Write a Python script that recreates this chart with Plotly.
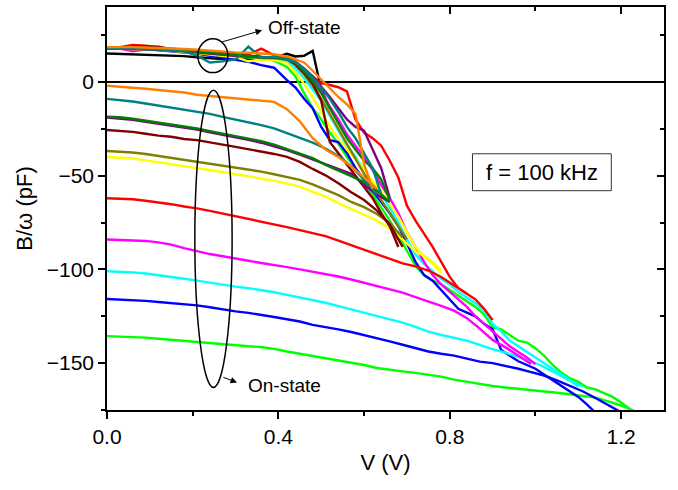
import plotly.graph_objects as go

# Voltage grid for the on-state sweeps (V)
V_ON = [0.00, 0.03, 0.06, 0.09, 0.12, 0.15, 0.18, 0.21, 0.24, 0.27,
        0.30, 0.33, 0.36, 0.39, 0.42, 0.45, 0.48, 0.51, 0.54, 0.57,
        0.60, 0.63, 0.66, 0.69, 0.72, 0.75, 0.78, 0.81, 0.84, 0.87,
        0.90, 0.93, 0.96, 0.99, 1.02, 1.05, 1.08, 1.11, 1.14, 1.17,
        1.20, 1.23]

# Voltage grid for the off-state sweeps (V)
V_OFF = [0.00, 0.03, 0.06, 0.09, 0.12, 0.15, 0.18, 0.21, 0.24, 0.27,
         0.30, 0.33, 0.36, 0.39, 0.42, 0.44, 0.46, 0.48, 0.50, 0.52,
         0.54, 0.56, 0.58, 0.60, 0.62, 0.64, 0.66, 0.68, 0.70, 0.72,
         0.74, 0.76, 0.78, 0.80, 0.82, 0.84, 0.86, 0.88, 0.90, 0.92,
         0.94, 0.96, 0.98, 1.00, 1.02, 1.04, 1.06, 1.08, 1.10, 1.12,
         1.14, 1.16, 1.18, 1.20, 1.22]

# B/omega (pF), on-state sweeps
ON_ORANGE = [-2.0, -2.4, -3.0, -3.6, -4.3, -5.0, -5.6, -6.8, -7.4, -8.2,
             -8.8, -9.5, -10.2, -10.6, -14.5, -21.0, -30.0, -36.0, -40.0, -45.0,
             -51.0, -57.0]
ON_TEAL = [-9.0, -9.6, -10.4, -11.5, -12.6, -13.4, -14.8, -15.8, -17.0, -18.6,
           -20.0, -21.6, -23.0, -24.8, -27.2, -30.0, -32.4, -35.5, -39.5, -45.0,
           -52.0, -60.0]
ON_PURPLE = [-19.0, -19.4, -20.2, -21.2, -22.2, -23.2, -24.4, -25.4, -26.8, -28.0,
             -29.4, -30.8, -32.4, -34.2, -36.4, -38.8, -41.4, -44.0, -46.4, -49.0,
             -55.0, -60.0, -64.0]
ON_GREEN = [-18.5, -18.8, -19.6, -20.6, -21.8, -22.6, -23.9, -24.8, -26.2, -27.4,
            -28.6, -30.2, -31.6, -33.4, -35.8, -38.0, -40.6, -44.2, -47.0, -50.2,
            -53.5, -58.0, -64.0]
ON_DARKRED = [-25.6, -26.0, -26.6, -27.6, -28.6, -29.2, -30.4, -31.0, -32.4, -33.4,
              -34.6, -35.8, -36.8, -38.4, -40.0, -42.6, -46.4, -49.8, -54.0, -58.8,
              -63.0, -68.6, -76.0, -88.0]
ON_OLIVE = [-36.8, -37.0, -37.6, -38.4, -39.4, -40.4, -41.4, -42.4, -43.4, -44.8,
            -45.6, -46.8, -47.8, -49.2, -50.6, -52.2, -54.6, -57.6, -60.4, -64.0,
            -66.8, -70.4, -75.2, -83.0]
ON_YELLOW = [-40.0, -40.2, -40.8, -41.8, -42.8, -43.8, -44.8, -45.8, -47.0, -48.0,
             -49.2, -50.2, -51.6, -52.6, -54.2, -55.8, -58.6, -61.2, -64.6, -67.8,
             -70.6, -74.0, -78.2, -84.0, -90.4, -94.2, -100.5]
ON_RED = [-62.0, -62.2, -62.6, -63.4, -64.2, -65.2, -66.4, -67.4, -68.8, -70.2,
          -71.6, -73.0, -74.4, -75.6, -77.4, -79.0, -80.8, -82.2, -84.6, -87.0,
          -89.8, -92.2, -94.6, -96.8, -98.4, -100.6, -104.0, -108.6, -113.0]
ON_MAGENTA = [-84.0, -84.2, -84.4, -84.8, -85.6, -86.8, -88.6, -90.4, -91.8, -93.0,
              -94.4, -95.4, -96.6, -97.6, -98.8, -100.0, -101.2, -102.4, -103.8, -105.4,
              -107.2, -108.6, -110.6, -112.4, -114.8, -117.0, -119.4, -122.0, -126.0, -131.6,
              -137.6, -141.6, -145.8, -150.4]
ON_CYAN = [-101.0, -101.2, -101.6, -102.2, -103.0, -104.0, -105.0, -106.0, -107.2, -108.2,
           -109.2, -110.0, -111.0, -112.2, -113.6, -115.0, -116.4, -117.8, -119.6, -121.4,
           -123.0, -124.6, -126.4, -128.4, -130.6, -133.2, -135.0, -136.4, -138.0, -140.2,
           -142.6, -144.4, -146.6, -149.0, -152.0, -155.6, -159.4, -162.5]
ON_BLUE = [-115.8, -116.0, -116.2, -116.8, -117.4, -118.0, -118.4, -119.2, -120.2, -121.4,
           -122.4, -123.2, -124.2, -125.4, -126.6, -127.8, -129.6, -130.6, -132.0, -133.4,
           -135.0, -136.4, -138.4, -140.2, -142.0, -143.8, -145.0, -146.0, -147.6, -149.2,
           -150.0, -151.4, -153.0, -154.8, -156.6, -159.2, -162.0, -165.0, -168.6, -172.4,
           -176.2]
ON_LIME = [-135.6, -135.8, -136.0, -136.4, -137.0, -137.6, -138.2, -138.6, -139.4, -140.0,
           -140.6, -141.0, -141.4, -142.4, -143.8, -145.0, -146.2, -147.2, -148.4, -149.6,
           -151.0, -152.6, -153.6, -154.4, -155.2, -156.0, -157.2, -158.8, -160.0, -161.0,
           -162.2, -163.0, -163.8, -164.4, -165.0, -165.8, -166.6, -167.4, -168.4, -170.4,
           -172.6, -175.4]

# B/omega (pF), off-state sweeps
OFF_BLACK = [15.2, 15.0, 14.8, 14.6, 14.4, 14.0, 13.8, 13.2, 12.6, 12.2,
             12.0, 12.4, 12.6, 13.0, 15.0, 13.6, 14.0, 16.6, -4.0, -14.0]
OFF_LIME = [17.6, 17.8, 17.6, 17.4, 17.2, 16.8, 16.4, 15.8, 15.0, 14.2,
            13.6, 13.0, 12.6, 11.4,
            8.0, 3.0, -6.0, -14.0, -20.0, -27.0, -33.0, -40.0, -46.0, -53.0,
            -60.0, -67.0, -74.0, -82.0, -90.0, -98.0, -103.0, -106.0, -108.0, -111.0,
            -114.0, -117.0, -120.0, -124.0, -131.0, -132.0, -135.0, -138.0, -139.0, -142.0,
            -146.0, -151.0, -155.0, -158.0, -160.0, -163.0, -164.0, -166.0, -168.0, -171.0,
            -174.5]
OFF_BLUE = [17.8, 18.0, 17.8, 17.6, 17.0, 16.6, 16.0, 15.2, 14.0, 13.0,
            12.0, 10.8, 9.0, 7.6,
            1.0, -3.0, -9.0, -14.0, -24.0, -31.0, -32.0, -38.0, -46.0, -52.0,
            -58.0, -64.0, -70.0, -77.0, -86.0, -96.0, -103.0, -106.0, -111.0, -116.0,
            -121.0, -123.0, -125.0, -129.0, -132.0, -143.0, -146.0, -149.0, -151.0, -153.0,
            -156.0, -159.0, -162.0, -165.0, -168.0, -172.0, -176.5]
OFF_CYAN = [18.2, 18.0, 17.8, 17.8, 17.4, 17.0, 16.6, 15.8, 15.2, 14.4,
            14.0, 13.4, 13.0, 12.4,
            10.8, 7.2, 2.0, -4.0, -10.0, -18.0, -26.0, -34.0, -40.0, -47.0,
            -54.0, -60.0, -67.0, -75.0, -84.0, -92.0, -97.0, -101.0, -105.0, -108.0,
            -112.0, -115.0, -118.0, -122.0, -129.0, -133.0, -138.0, -141.0, -144.0, -147.0,
            -150.0, -153.0, -156.0, -159.0, -162.5]
OFF_MAGENTA = [18.0, 17.8, 16.4, 17.4, 17.6, 17.2, 16.8, 16.0, 15.4, 14.8,
               14.2, 13.8, 13.4, 13.0,
               12.0, 9.6, 6.0, 1.0, -5.0, -13.0, -20.0, -28.0, -34.0, -40.0,
               -47.0, -55.0, -62.0, -70.0, -80.0, -88.0, -96.0, -103.0, -108.0, -112.0,
               -116.0, -120.0, -125.0, -129.0, -133.0, -137.0, -141.0, -144.0, -147.0, -150.5]
OFF_RED = [18.4, 18.6, 19.8, 19.4, 18.4, 17.8, 17.2, 16.4, 15.8, 15.2,
           14.8, 14.6, 17.8, 14.2,
           13.2, 10.0, 6.4, 3.0, -0.6, -1.6, -2.8, -5.0, -20.0, -27.0,
           -30.0, -34.0, -42.0, -51.0, -66.0, -74.0, -81.0, -88.0, -96.0, -104.0,
           -110.0, -113.0, -116.0, -121.0, -127.0]
OFF_YELLOW = [18.0, 17.8, 17.8, 17.4, 17.2, 16.6, 16.2, 15.4, 14.6, 14.0,
              13.2, 11.0, 12.0, 11.8,
              10.0, 5.0, -1.0, -8.0, -16.0, -24.0, -30.0, -36.0, -41.0, -47.0,
              -53.0, -58.0, -65.0, -72.0, -80.0, -88.0, -93.0, -97.0, -102.0]
OFF_OLIVE = [18.0, 17.8, 17.6, 17.6, 17.2, 16.8, 16.2, 15.6, 15.0, 14.4,
             13.8, 13.2, 12.8, 12.6,
             12.0, 9.0, 4.0, -2.0, -9.0, -17.0, -25.0, -33.0, -41.0, -49.0,
             -56.0, -63.0, -70.0, -77.0, -84.0]
OFF_DARKRED = [18.0, 18.2, 18.6, 19.0, 18.8, 17.4, 16.8, 16.2, 15.4, 14.8,
               14.2, 13.6, 13.4, 13.0,
               12.4, 9.4, 4.8, -0.8, -10.0, -32.0, -38.0, -44.0, -50.0, -56.0,
               -62.0, -70.0, -77.0, -88.0]
OFF_PURPLE = [18.2, 18.0, 17.8, 17.6, 17.4, 17.0, 16.6, 16.0, 15.2, 14.6,
              14.0, 13.6, 13.2, 13.0,
              12.6, 10.8, 7.2, 3.0, -2.4, -8.0, -14.0, -20.0, -24.0, -26.0,
              -36.0, -46.0, -62.0]
OFF_GREEN = [18.0, 18.2, 18.0, 17.8, 17.6, 17.2, 16.8, 16.2, 15.4, 14.8,
             14.2, 13.6, 13.2, 13.0,
             12.8, 10.0, 5.6, 0.4, -6.0, -14.0, -22.0, -30.0, -36.0, -42.0,
             -46.0, -52.0, -63.0]
OFF_TEAL = [17.8, 18.0, 17.8, 17.6, 17.4, 17.0, 16.4, 14.0, 10.4, 11.0,
            12.0, 18.8, 13.0, 13.4,
            12.0, 10.6, 7.0, 2.4, -3.0, -9.0, -16.0, -24.0, -30.0, -38.0,
            -46.0, -60.0]
OFF_ORANGE = [18.6, 18.8, 18.6, 18.4, 18.2, 17.8, 17.6, 17.2, 16.6, 16.0,
              15.8, 15.6, 15.2, 14.8,
              13.6, 12.0, 10.4, 6.0, 1.4, -3.0, -8.0, -12.0, -17.0, -44.0,
              -57.0]

# (off-state series, on-state series, colour), in drawing order
SWEEPS = [
    (OFF_BLACK, None, "#000000"),
    (OFF_LIME, ON_LIME, "#00FF00"),
    (OFF_BLUE, ON_BLUE, "#0000FF"),
    (OFF_CYAN, ON_CYAN, "#00FFFF"),
    (OFF_MAGENTA, ON_MAGENTA, "#FF00FF"),
    (OFF_RED, ON_RED, "#FF0000"),
    (OFF_YELLOW, ON_YELLOW, "#FFFF00"),
    (OFF_OLIVE, ON_OLIVE, "#808000"),
    (OFF_DARKRED, ON_DARKRED, "#800000"),
    (OFF_PURPLE, ON_PURPLE, "#800080"),
    (OFF_GREEN, ON_GREEN, "#008000"),
    (OFF_TEAL, ON_TEAL, "#008080"),
    (OFF_ORANGE, ON_ORANGE, "#FF8000"),
]

FONT = "Liberation Sans, Arial, sans-serif"
LW = 2.4

fig = go.Figure()
for off_vals, on_vals, colour in SWEEPS:
    if on_vals is not None:
        fig.add_trace(go.Scatter(x=V_ON[:len(on_vals)], y=on_vals, mode="lines",
                                 line=dict(color=colour, width=LW), showlegend=False))
    fig.add_trace(go.Scatter(x=V_OFF[:len(off_vals)], y=off_vals, mode="lines",
                             line=dict(color=colour, width=LW), showlegend=False))

# empty trace that carries the top/right tick axes
fig.add_trace(go.Scatter(x=[], y=[], xaxis="x2", yaxis="y2", showlegend=False))

X_RANGE = [0, 1.3]
Y_RANGE = [-175, 40]

axis_common = dict(showgrid=False, linecolor="#000000", linewidth=1.5,
                   tickcolor="#000000", tickwidth=1.5, ticklen=7,
                   tickfont=dict(family=FONT, size=21, color="#000000"))

fig.update_layout(
    width=678, height=490,
    margin=dict(l=107, r=14, t=5, b=80),
    paper_bgcolor="white", plot_bgcolor="white",
    font=dict(family=FONT, color="#000000"),
    xaxis=dict(range=X_RANGE, ticks="outside", tick0=0, dtick=0.4, tickformat=".1f",
               mirror=True, showline=True, zeroline=False,
               minor=dict(ticks="outside", dtick=0.2, ticklen=4, tickcolor="#000000", tickwidth=1.5),
               title=dict(text="V (V)", font=dict(family=FONT, size=22), standoff=8),
               **axis_common),
    yaxis=dict(range=Y_RANGE, ticks="outside", tick0=0, dtick=50,
               mirror=True, showline=True,
               zeroline=True, zerolinecolor="#000000", zerolinewidth=1.5,
               minor=dict(ticks="outside", dtick=25, ticklen=4, tickcolor="#000000", tickwidth=1.5),
               title=dict(text="B/ω (pF)", font=dict(family=FONT, size=22), standoff=8),
               **axis_common),
    xaxis2=dict(range=X_RANGE, overlaying="x", side="top", anchor="y2",
                ticks="inside", tick0=0, dtick=0.4, showticklabels=False,
                showline=False, zeroline=False,
                minor=dict(ticks="inside", dtick=0.2, ticklen=4, tickcolor="#000000", tickwidth=1.5),
                **axis_common),
    yaxis2=dict(range=Y_RANGE, overlaying="y", side="right", anchor="x2",
                ticks="inside", tick0=0, dtick=50, showticklabels=False,
                showline=False, zeroline=False,
                minor=dict(ticks="inside", dtick=25, ticklen=4, tickcolor="#000000", tickwidth=1.5),
                **axis_common),
)

# ellipses marking the off-state and on-state families
fig.add_shape(type="circle", xref="x", yref="y", x0=0.212, x1=0.282, y0=5.0, y1=23.1,
              line=dict(color="#000000", width=1.5))
fig.add_shape(type="circle", xref="x", yref="y", x0=0.205, x1=0.292, y0=-163.0, y1=-4.4,
              line=dict(color="#000000", width=1.5))

# frequency box
fig.add_shape(type="rect", xref="x", yref="y", x0=0.853, x1=1.177, y0=-58.0, y1=-38.3,
              line=dict(color="#333333", width=1), fillcolor="white")
fig.add_annotation(x=1.015, y=-48.2, xref="x", yref="y", text="f = 100 kHz",
                   showarrow=False, font=dict(family=FONT, size=22, color="#000000"))

# labels with arrows
fig.add_annotation(x=0.362, y=27.6, ax=0.266, ay=21.2, xref="x", yref="y",
                   axref="x", ayref="y", text="", showarrow=True,
                   arrowhead=2, arrowsize=1.3, arrowwidth=1, arrowcolor="#000000")
fig.add_annotation(x=0.371, y=28.9, xref="x", yref="y", text="Off-state",
                   showarrow=False, xanchor="left",
                   font=dict(family=FONT, size=19, color="#000000"))
fig.add_annotation(x=0.3035, y=-160.3, ax=0.268, ay=-157.3, xref="x", yref="y",
                   axref="x", ayref="y", text="", showarrow=True,
                   arrowhead=2, arrowsize=1.3, arrowwidth=1, arrowcolor="#000000")
fig.add_annotation(x=0.324, y=-162.1, xref="x", yref="y", text="On-state",
                   showarrow=False, xanchor="left",
                   font=dict(family=FONT, size=19, color="#000000"))

fig.write_html("out.html")
